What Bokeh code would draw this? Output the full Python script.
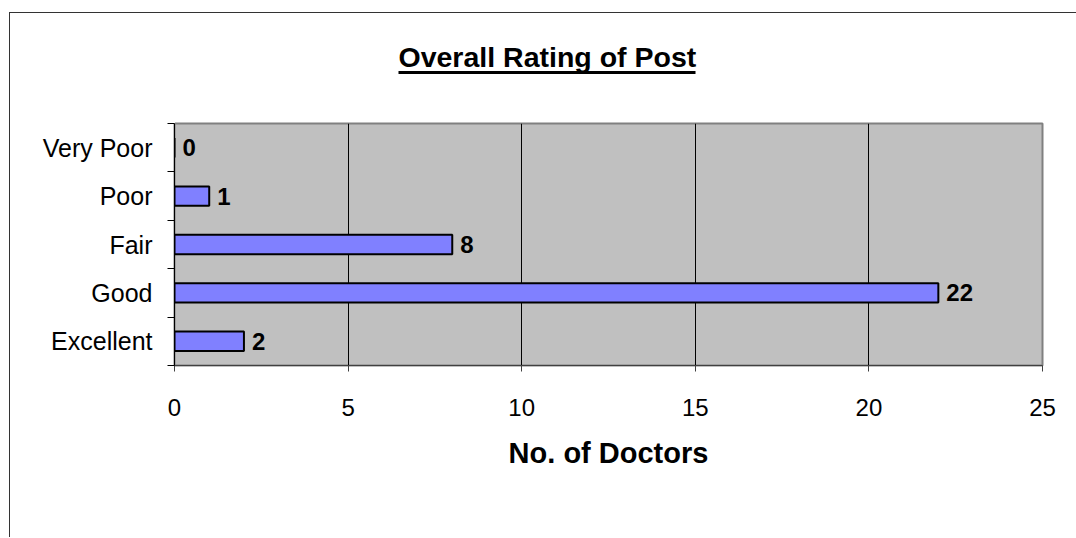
from bokeh.plotting import figure
from bokeh.models import ColumnDataSource, FixedTicker, Range1d, LinearAxis, Title
from bokeh.core.properties import value
from bokeh.embed import file_html
from bokeh.resources import INLINE

# Data (bottom to top)
categories = ["Excellent", "Good", "Fair", "Poor", "Very Poor"]
doctors = [2, 22, 8, 1, 0]
x_ticks = [0, 5, 10, 15, 20, 25]
title_text = "Overall Rating of Post"
x_title = "No. of Doctors"

FONT = "Liberation Sans"
positions = list(range(len(categories)))

X0, X1 = 0, 25
Y0, Y1 = -0.5, len(categories) - 0.5
F_W, F_H = 868, 242
PAGE_FRAME_LEFT = 174

def px_to_x(px):
    return X0 + (px - PAGE_FRAME_LEFT) * (X1 - X0) / F_W

source = ColumnDataSource(dict(
    pos=positions,
    cat=categories,
    val=doctors,
    lab=[str(v) for v in doctors],
))

p = figure(
    output_backend="svg", toolbar_location=None,
    frame_width=F_W, frame_height=F_H,
    min_border_left=164, min_border_right=34,
    min_border_top=110, min_border_bottom=172,
    x_range=Range1d(X0, X1),
    y_range=Range1d(Y0, Y1),
    background_fill_color="#C0C0C0",
    border_fill_color="white",
    title=None,
)
p.styles = {"margin-left": "8.5px", "margin-top": "11.5px",
            "border-left": "1.5px solid #333333",
            "border-top": "1.5px solid #333333"}
p.outline_line_color = "#808080"
p.outline_line_width = 2

p.hbar(y="pos", left=0, right="val", height=0.4, source=source,
       fill_color="#8080FF", line_color="black", line_width=2)

p.text(x="val", y="pos", text="lab", source=source, x_offset=8,
       text_baseline="middle", text_align="left",
       text_font=value(FONT), text_font_style="bold",
       text_font_size="24px", text_color="black")

# X axis
p.xaxis.ticker = FixedTicker(ticks=x_ticks, minor_ticks=[])
p.xaxis.axis_label = x_title
p.xaxis.axis_label_text_font = FONT
p.xaxis.axis_label_text_font_style = "bold"
p.xaxis.axis_label_text_font_size = "29px"
p.xaxis.axis_label_text_color = "black"
p.xaxis.axis_label_standoff = 18
p.xaxis.major_label_text_font = FONT
p.xaxis.major_label_text_font_size = "24px"
p.xaxis.major_label_text_color = "black"
p.xaxis.major_label_standoff = 27
p.xaxis.major_tick_in = 0
p.xaxis.major_tick_out = 6
p.xaxis.major_tick_line_color = "#404040"
p.xaxis.axis_line_color = "#404040"

# Y axis: labels at centers, ticks at boundaries
p.yaxis.ticker = FixedTicker(ticks=positions,
                             minor_ticks=[i - 0.5 for i in range(len(categories) + 1)])
p.yaxis.major_label_overrides = {i: c for i, c in zip(positions, categories)}
p.yaxis.major_label_text_font = FONT
p.yaxis.major_label_text_font_size = "25px"
p.yaxis.major_label_text_color = "black"
p.yaxis.major_tick_in = 0
p.yaxis.major_tick_out = 0
p.yaxis.minor_tick_in = 0
p.yaxis.minor_tick_out = 7
p.yaxis.minor_tick_line_color = "black"
p.yaxis.major_label_standoff = 15
p.yaxis.axis_line_color = "black"

p.xgrid.ticker = FixedTicker(ticks=x_ticks[1:-1])
p.xgrid.grid_line_color = "black"
p.xgrid.grid_line_width = 1
p.ygrid.grid_line_color = None

# Above the frame: an invisible spacer (white tick on white), the underline,
# then the title text.
spacer = LinearAxis(ticker=FixedTicker(ticks=[X0], minor_ticks=[]),
                    axis_line_color=None, major_tick_line_color="white",
                    minor_tick_line_color=None, major_tick_in=0,
                    major_tick_out=51, major_label_standoff=0,
                    major_label_text_color=None)
p.add_layout(spacer, "above")

underline = LinearAxis(ticker=FixedTicker(ticks=[], minor_ticks=[]),
                       bounds=(px_to_x(398), px_to_x(695)),
                       axis_line_color="black", axis_line_width=3,
                       major_tick_line_color=None, minor_tick_line_color=None,
                       major_tick_in=0, major_tick_out=0, major_label_standoff=0)
p.add_layout(underline, "above")

p.add_layout(Title(text=title_text, align="left", offset=224, standoff=0,
                   text_font=FONT, text_font_style="bold",
                   text_font_size="28.5px", text_color="black"), "above")

open("out.html", "w").write(file_html(p, INLINE))
